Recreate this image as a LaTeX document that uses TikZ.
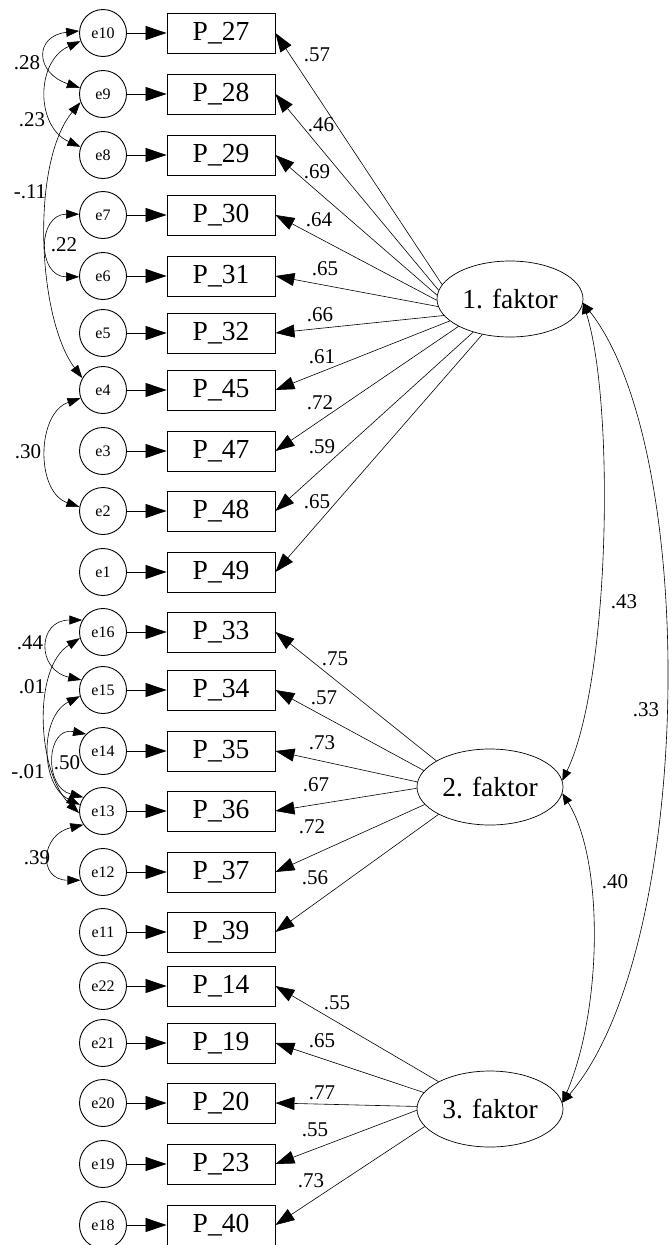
\documentclass[tikz,border=0pt]{standalone}
\usepackage{fontspec}
\setmainfont{Liberation Serif}
\usetikzlibrary{arrows.meta,shapes.geometric}

\begin{document}
\begin{tikzpicture}[x=1pt,y=-1pt,
  obs/.style={draw, line width=0.9pt, minimum width=108pt, minimum height=40pt,
              inner sep=0pt, font=\fontsize{27.5}{30}\selectfont},
  err/.style={draw, circle, line width=0.9pt, minimum size=47pt, inner sep=0pt,
              font=\fontsize{16}{18}\selectfont},
  lat/.style={draw, ellipse, line width=0.7pt, minimum width=146pt, minimum height=76pt,
              inner sep=0pt, font=\fontsize{27.5}{30}\selectfont},
  errpath/.style={line width=0.8pt, -{Triangle[length=21pt,width=14pt]}},
  load/.style={line width=0.6pt, -{Triangle[length=19pt,width=13pt]}},
  cov/.style={line width=0.6pt, {Triangle[length=13pt,width=9pt]}-{Triangle[length=13pt,width=9pt]}},
  fcov/.style={line width=0.6pt, {Triangle[length=11pt,width=9pt]}-{Triangle[length=11pt,width=9pt]}},
  num/.style={inner sep=0pt, font=\fontsize{21}{24}\selectfont},
]
\useasboundingbox (0,0) rectangle (672,1245);

% indicators with their error terms
\foreach \e/\p/\y in {e10/27/33, e9/28/94, e8/29/155, e7/30/215, e6/31/276,
                      e5/32/333, e4/45/390, e3/47/451, e2/48/511, e1/49/572,
                      e16/33/632, e15/34/690, e14/35/751, e13/36/811, e12/37/872,
                      e11/39/932, e22/14/986, e21/19/1043, e20/20/1103,
                      e19/23/1164, e18/40/1225}{
  \node[err] (\e) at (103,\y) {\e};
  \node[obs] (p\p) at (221,\y) {P\_\p};
  \draw[errpath] (\e) -- (p\p);
}

% latent factors
\node[lat] (f1) at (510,299) {1. faktor};
\node[lat] (f2) at (490,787) {2. faktor};
\node[lat] (f3) at (490,1109) {3. faktor};

% factor loadings
\foreach \p/\a/\lab/\lx/\ly in {27/168/.57/317/55, 28/173/.46/321/125, 29/177/.69/317/172,
                                30/181/.64/319/220, 31/186/.65/325/269, 32/194/.66/320/315,
                                45/200/.61/322/357, 47/208/.72/320/403, 48/222/.59/322/447,
                                49/232/.65/317/502}{
  \draw[load] (f1.\a) -- (p\p.east);
  \node[num] (l\p) at (\lx,\ly) {\lab};
}
\foreach \p/\a/\lab/\lx/\ly in {33/154/.75/335/659, 34/166/.57/324/698, 35/176/.73/322/743,
                                36/181/.67/316/785, 37/195/.72/312/827, 39/208/.56/315/878}{
  \draw[load] (f2.\a) -- (p\p.east);
  \node[num] (l\p) at (\lx,\ly) {\lab};
}
\foreach \p/\a/\lab/\lx/\ly in {14/152/.55/337/1003, 19/166/.65/322/1041, 20/178/.77/322/1093,
                                23/181/.55/315/1130, 40/195/.73/311/1181}{
  \draw[load] (f3.\a) -- (p\p.east);
  \node[num] (l\p) at (\lx,\ly) {\lab};
}

% error covariances
\draw[cov] (e10.175) .. controls +(-45,5) and +(-45,-15) .. (e9.165);
\draw[cov] (e10.200) .. controls +(-45,20) and +(-45,-20) .. (e8.160);
\draw[cov] (e9.200) .. controls +(-50,60) and +(-45,-60) .. (e4.150);
\draw[cov] (e7.178) .. controls +(-42,0) and +(-42,0) .. (e6.182);
\draw[cov] (e4.200) .. controls +(-44,15) and +(-44,-15) .. (e2.170);
\draw[cov] (e16.150) .. controls +(-45,0) and +(-45,-10) .. (e15.155);
\draw[cov] (e16.195) .. controls +(-48,30) and +(-42,-40) .. (e13.185);
\draw[cov] (e15.195) .. controls +(-40,20) and +(-40,-20) .. (e13.165);
\draw[cov] (e14.135) .. controls +(-40,-8) and +(-40,-10) .. (e13.145);
\draw[cov] (e13.215) .. controls +(-43,10) and +(-43,0) .. (e12.200);

\node[num] (c1) at (27,63) {.28};
\node[num] (c2) at (32,120) {.23};
\node[num] (c3) at (30,192) {-.11};
\node[num] (c4) at (64,245) {.22};
\node[num] (c5) at (28,452) {.30};
\node[num] (c6) at (30,643) {.44};
\node[num] (c7) at (32,687) {.01};
\node[num] (c8) at (28,772) {-.01};
\node[num] (c9) at (67,763) {.50};
\node[num] (c10) at (37,858) {.39};

% factor covariances
\draw[fcov] (f1.357) .. controls +(32,100) and +(48,-100) .. (f2.5);
\draw[fcov] (f1.357) .. controls +(117,148) and +(132,-153) .. (f3.5);
\draw[fcov] (f2.355) .. controls +(42,67) and +(40,-93) .. (f3.5);

\node[num] (k1) at (624,602) {.43};
\node[num] (k2) at (646,710) {.33};
\node[num] (k3) at (615,882) {.40};
\end{tikzpicture}
\end{document}
